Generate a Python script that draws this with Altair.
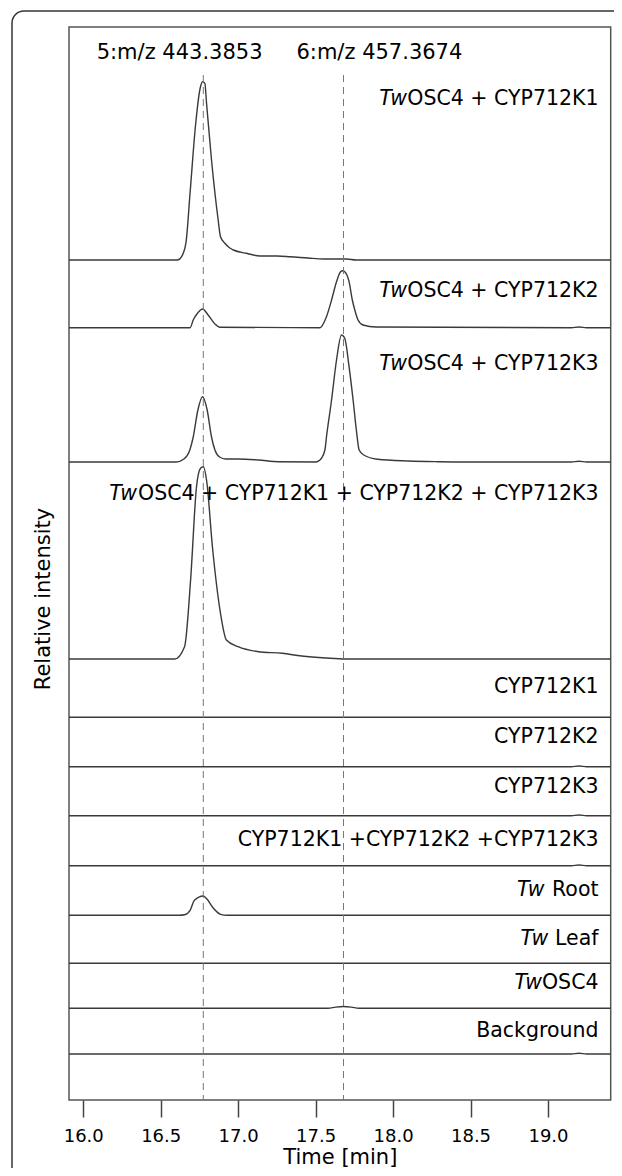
import math
import altair as alt
import pandas as pd

# ---------------- data ----------------
SAMPLES = ["TwOSC4 + CYP712K1", "TwOSC4 + CYP712K2", "TwOSC4 + CYP712K3",
           "TwOSC4 + CYP712K1 + CYP712K2 + CYP712K3", "CYP712K1", "CYP712K2",
           "CYP712K3", "CYP712K1 +CYP712K2 +CYP712K3", "Tw Root", "Tw Leaf",
           "TwOSC4", "Background"]
LABEL_ITALIC = ["Tw", "Tw", "Tw", "Tw", "", "", "", "", "Tw", "Tw", "Tw", ""]
LABEL_REST = ["OSC4 + CYP712K1", "OSC4 + CYP712K2", "OSC4 + CYP712K3",
              "OSC4 + CYP712K1 + CYP712K2 + CYP712K3", "CYP712K1", "CYP712K2",
              "CYP712K3", "CYP712K1 +CYP712K2 +CYP712K3", "Root", "Leaf",
              "OSC4", "Background"]
LABEL_GAP = [False, False, False, False, False, False, False, False, True, True, False, False]

# stacking offsets of each trace (relative intensity units)
OFFSET = [840, 772.3, 638, 441, 382.7, 333.3, 284.3, 234.3, 184.7, 136.7, 91.7, 46]
LABEL_Y = [994.7, 802.7, 729.7, 599.7, 406.7, 356.7, 306.7, 253.7, 203.7, 154.7, 111, 62.7]

T0, T1 = 15.908, 19.405

t_k1 = [T0, 16.61, 16.635, 16.663, 16.69, 16.725, 16.755, 16.770, 16.785, 16.796, 16.828,
        16.871, 16.886, 16.914, 16.946, 16.969, 17.054, 17.14, 17.25, 17.334, 17.45, 17.55,
        17.70, 17.76, T1]
v_k1 = [0, 0, 3.3, 17.3, 68, 135, 172, 178.3, 176.7, 156.7, 100,
        40, 23.3, 16.7, 12, 10, 6.7, 4, 4, 3.3, 2, 1,
        1, 0, 0]

t_k2 = [T0, 16.69, 16.71, 16.74, 16.77, 16.806, 16.85, 16.88, 17.527, 17.57, 17.603, 17.635,
        17.661, 17.674, 17.688, 17.716, 17.737, 17.753, 17.774, 17.806, 17.89, 19.15, 19.2, 19.25, T1]
v_k2 = [0, 0, 7.7, 15, 18.7, 12.7, 3.7, 0.5, 0, 11, 27.7, 46,
        56, 57, 56, 46, 27.7, 17.7, 7.7, 2.7, 0.7, 0, 0.7, 0, 0]

t_k3 = [T0, 16.60, 16.65, 16.688, 16.71, 16.74, 16.77, 16.80, 16.828, 16.85, 16.88, 16.92,
        17.0, 17.13, 17.26, 17.50, 17.528, 17.56, 17.57, 17.603, 17.635, 17.667, 17.688,
        17.716, 17.742, 17.763, 17.781, 17.811, 17.90, 18.10, 18.29, 18.45, 19.15, 19.2, 19.25, T1]
v_k3 = [0, 0, 3, 12, 25, 52, 65.3, 52, 25, 12, 5, 3,
        3, 2, 0.3, 0, 2, 12, 25, 62, 102, 127, 123.7,
        95.3, 62, 32, 12, 7, 2.7, 1, 0.3, 0, 0, 0.7, 0, 0]

t_all = [T0, 16.59, 16.654, 16.693, 16.731, 16.757, 16.775, 16.796, 16.834, 16.886, 16.924,
         17.0, 17.13, 17.284, 17.41, 17.567, 17.695, T1]
v_all = [0, 0, 12.3, 79, 172, 190.7, 192.3, 179, 112, 45.7, 19,
         12.3, 7.3, 5.7, 3, 1, 0, 0]

t_c1 = [T0, T1]
v_c1 = [0, 0]
t_c2 = [T0, 19.15, 19.2, 19.25, T1]
v_c2 = [0, 0, 0.7, 0, 0]
t_c3 = [T0, 19.15, 19.2, 19.25, T1]
v_c3 = [0, 0, 0.7, 0, 0]
t_c123 = [T0, 19.15, 19.2, 19.25, T1]
v_c123 = [0, 0, 0.7, 0, 0]

t_root = [T0, 16.62, 16.654, 16.69, 16.718, 16.775, 16.80, 16.834, 16.886, 16.93, T1]
v_root = [0, 0, 0.5, 5, 15, 19.3, 16, 8.3, 1, 0, 0]

t_leaf = [T0, T1]
v_leaf = [0, 0]

t_osc4 = [T0, 17.58, 17.63, 17.68, 17.73, 17.78, T1]
v_osc4 = [0, 0, 1.2, 1.8, 1.2, 0, 0]

t_bg = [T0, 19.15, 19.2, 19.25, T1]
v_bg = [0, 0, 0.8, 0, 0]

TIMES = [t_k1, t_k2, t_k3, t_all, t_c1, t_c2, t_c3, t_c123, t_root, t_leaf, t_osc4, t_bg]
VALUES = [v_k1, v_k2, v_k3, v_all, v_c1, v_c2, v_c3, v_c123, v_root, v_leaf, v_osc4, v_bg]

MZ_LABELS = ["5:m/z 443.3853", "6:m/z 457.3674"]
MZ_TIMES = [16.775, 17.68]
X_TICKS = [16.0, 16.5, 17.0, 17.5, 18.0, 18.5, 19.0]

# ---------------- layout ----------------
W, H = 541.7, 1073
FONT = "DejaVu Sans"
LBL_SIZE = 20.5
INK = "#3a3a3a"
FRAME = "#333333"

EM = {"O": 0.787, "S": 0.635, "C": 0.698, "Y": 0.611, "P": 0.603, "K": 0.656, "R": 0.695,
      "L": 0.557, "B": 0.686, "T": 0.611, "+": 0.838, " ": 0.318, "a": 0.613, "c": 0.550,
      "k": 0.579, "g": 0.635, "r": 0.411, "o": 0.612, "u": 0.634, "n": 0.634, "d": 0.635,
      "e": 0.615, "f": 0.352, "t": 0.392, "w": 0.818}
for ch in "0123456789":
    EM[ch] = 0.636


def text_w(s, size):
    return sum(EM.get(c, 0.6) for c in s) * size


rows = []
for name, ts, vs, off in zip(SAMPLES, TIMES, VALUES, OFFSET):
    for t, v in zip(ts, vs):
        rows.append({"sample": name, "t": t, "y": off + v})
df = pd.DataFrame(rows)

X_RIGHT = 529.5
lab = pd.DataFrame({
    "sample": SAMPLES,
    "it": LABEL_ITALIC,
    "rest": LABEL_REST,
    "ly": LABEL_Y,
})
lab["xr"] = X_RIGHT
lab["xi"] = [X_RIGHT - text_w(r, LBL_SIZE) - (EM[" "] * LBL_SIZE if g else 0)
             for r, g in zip(LABEL_REST, LABEL_GAP)]

xs = alt.Scale(domain=[T0, T1], nice=False, zero=False)
ys = alt.Scale(domain=[0, H], nice=False, zero=False)

# outer figure frame (open to the right and bottom, rounded top-left corner)
one = pd.DataFrame({"k": [0]})
frame_top = alt.Chart(one).mark_rule(color=FRAME, strokeWidth=1.5).encode(
    x=alt.value(-45), x2=alt.value(580), y=alt.value(-16))
frame_left = alt.Chart(one).mark_rule(color=FRAME, strokeWidth=1.5).encode(
    x=alt.value(-57), y=alt.value(-4), y2=alt.value(1160))
frame_corner = alt.Chart(one).mark_arc(
    color=FRAME, radius=12.75, radius2=11.25).encode(
    x=alt.value(-45), y=alt.value(-4),
    theta=alt.value(1.5 * math.pi), theta2=alt.value(2 * math.pi))

lines = alt.Chart(df).mark_line(color=INK, strokeWidth=1.4, interpolate="monotone").encode(
    x=alt.X("t:Q", scale=xs, axis=alt.Axis(
        values=X_TICKS, format=".1f", tickSize=17, tickWidth=1.5, tickColor="#444444",
        domain=False, grid=False, labelFont=FONT, labelFontSize=18, labelColor="black",
        labelBaseline="alphabetic", labelPadding=24.5, labelFlush=False,
        title="Time [min]", titleFont=FONT, titleFontSize=21, titleFontWeight="normal",
        titleColor="black", titleBaseline="alphabetic", titleY=63.5)),
    y=alt.Y("y:Q", scale=ys, axis=alt.Axis(
        ticks=False, labels=False, domain=False, grid=False,
        title="Relative intensity", titleFont=FONT, titleFontSize=21,
        titleFontWeight="normal", titleColor="black", titleBaseline="alphabetic",
        titleX=-19.5, titleY=571.5, titleAngle=-90)),
    detail="sample:N",
    order="t:Q",
)

rules_df = pd.DataFrame({"t": MZ_TIMES, "top": [1025, 1025], "bot": [0, 0]})
rules = alt.Chart(rules_df).mark_rule(color="#777777", strokeWidth=1, strokeDash=[7, 5]).encode(
    x=alt.X("t:Q", scale=xs), y=alt.Y("top:Q", scale=ys), y2="bot:Q")

mz_df = pd.DataFrame({"label": MZ_LABELS, "px": [110.6, 310.4], "py": [1040.6, 1040.6]})
mz = alt.Chart(mz_df).mark_text(font=FONT, fontSize=21, color="black", align="center",
                                baseline="alphabetic").encode(
    x=alt.X("px:Q", scale=None), y=alt.Y("py:Q", scale=ys), text="label:N")

rest_txt = alt.Chart(lab).mark_text(font=FONT, fontSize=LBL_SIZE, color="black", align="right",
                                    baseline="alphabetic").encode(
    x=alt.X("xr:Q", scale=None), y=alt.Y("ly:Q", scale=ys), text="rest:N")
it_txt = alt.Chart(lab).mark_text(font=FONT, fontSize=LBL_SIZE, color="black", align="right",
                                  baseline="alphabetic", fontStyle="italic").encode(
    x=alt.X("xi:Q", scale=None), y=alt.Y("ly:Q", scale=ys), text="it:N")

chart = alt.layer(frame_top, frame_left, frame_corner, lines, rules, mz, rest_txt, it_txt).properties(
    width=W, height=H,
    padding={"left": 61, "top": 19, "right": 3.3, "bottom": 68},
    autosize=alt.AutoSizeParams(type="none"),
).configure_view(stroke="#555555", strokeWidth=1.5)

chart.save("out.html", embed_options={"renderer": "svg", "actions": False})
